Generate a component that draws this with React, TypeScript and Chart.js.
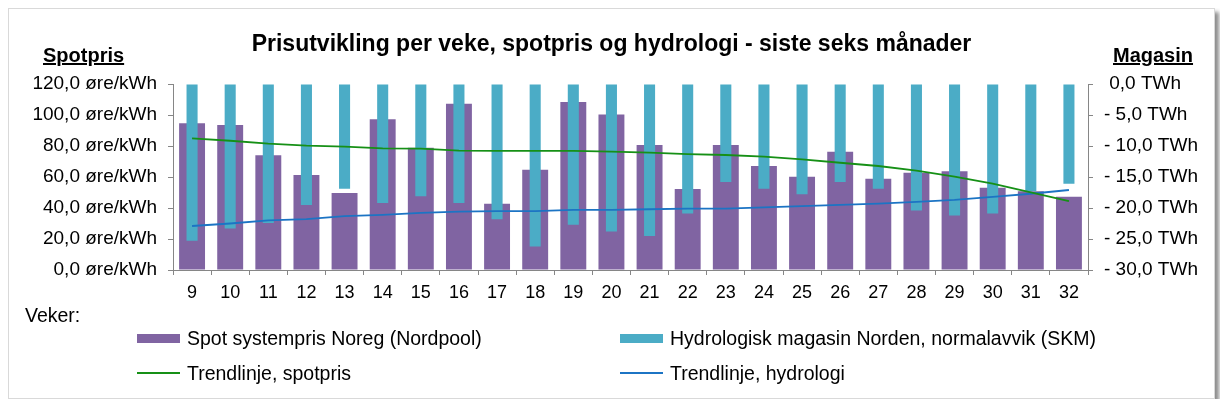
import React, { useEffect, useRef } from 'react';
import Chart from 'chart.js/auto';

// weeks on the x axis
const weeks = ['9', '10', '11', '12', '13', '14', '15', '16', '17', '18', '19', '20',
  '21', '22', '23', '24', '25', '26', '27', '28', '29', '30', '31', '32'];

// øre/kWh, left axis
const spotPrice = [94.6, 93.5, 74.0, 61.3, 49.7, 97.2, 78.9, 107.3, 42.8, 64.7, 108.4, 100.4,
  80.6, 52.3, 80.6, 67.1, 60.2, 76.3, 58.9, 62.8, 63.7, 53.1, 50.8, 47.3];

// TWh deviation from normal, right axis
const reservoir = [-25.3, -23.3, -22.4, -19.5, -16.9, -19.2, -18.1, -19.2, -21.8, -26.2, -22.7, -23.8,
  -24.5, -20.9, -15.8, -16.9, -17.8, -15.8, -16.9, -20.4, -21.2, -20.9, -17.3, -16.1];

const spotTrend = [84.9, 83.4, 81.5, 80.2, 79.6, 78.5, 78.3, 77.0, 76.8, 76.8, 76.8, 76.4,
  75.7, 74.8, 74.2, 73.1, 71.4, 69.2, 67.1, 64.1, 60.2, 55.7, 50.1, 44.5];

const hydroTrend = [-22.9, -22.5, -22.0, -21.8, -21.3, -21.1, -20.8, -20.6, -20.5, -20.5, -20.3, -20.3,
  -20.2, -20.1, -20.1, -19.9, -19.7, -19.5, -19.3, -19.0, -18.7, -18.2, -17.7, -17.1];

const PURPLE = '#8064A2';
const TEAL = '#4BACC6';
const GREEN = '#169016';
const BLUE = '#1C74C4';
const AXIS = '#868686';
const FONT = '"Liberation Sans", Arial, sans-serif';

const W = 1205;
const H = 389;

const fmt = (v: number) => v.toFixed(1).replace('.', ',');

const App: React.FC = () => {
  const canvasRef = useRef<HTMLCanvasElement>(null);
  const chartRef = useRef<Chart | null>(null);

  useEffect(() => {
    const ctx = canvasRef.current?.getContext('2d');
    if (!ctx) return;
    if (chartRef.current) chartRef.current.destroy();

    chartRef.current = new Chart(ctx, {
      type: 'bar',
      data: {
        labels: weeks,
        datasets: [
          {
            type: 'line',
            label: 'Trendlinje, spotpris',
            data: spotTrend,
            yAxisID: 'y',
            borderColor: GREEN,
            borderWidth: 1.8,
            pointRadius: 0,
            order: 0,
          },
          {
            type: 'line',
            label: 'Trendlinje, hydrologi',
            data: hydroTrend,
            yAxisID: 'y1',
            borderColor: BLUE,
            borderWidth: 1.8,
            pointRadius: 0,
            order: 1,
          },
          {
            label: 'Hydrologisk magasin Norden, normalavvik (SKM)',
            data: reservoir,
            yAxisID: 'y1',
            backgroundColor: TEAL,
            grouped: false,
            categoryPercentage: 1,
            barPercentage: 0.29,
            order: 2,
          },
          {
            label: 'Spot systempris Noreg (Nordpool)',
            data: spotPrice,
            yAxisID: 'y',
            backgroundColor: PURPLE,
            grouped: false,
            categoryPercentage: 1,
            barPercentage: 0.68,
            order: 3,
          },
        ],
      },
      options: {
        responsive: false,
        animation: false,
        layout: { padding: { top: 75, bottom: 88, left: 0, right: 0 } },
        plugins: {
          legend: { display: false },
          title: { display: false },
          tooltip: { enabled: false },
        },
        scales: {
          x: {
            offset: true,
            grid: { offset: true, drawOnChartArea: false, tickLength: 5, color: AXIS },
            border: { color: AXIS },
            ticks: { color: '#000', font: { family: FONT, size: 18 }, padding: 7, maxRotation: 0 },
            afterFit: (s: any) => { s.height = 40; },
          },
          y: {
            position: 'left',
            min: 0,
            max: 120,
            grid: { drawOnChartArea: false, tickLength: 5, color: AXIS },
            border: { color: AXIS },
            ticks: {
              stepSize: 20,
              color: '#000',
              padding: 11,
              font: { family: FONT, size: 19 },
              callback: (v: any) => fmt(Number(v)) + ' øre/kWh',
            },
            afterFit: (s: any) => { s.width = 164; },
          },
          y1: {
            position: 'right',
            min: -30,
            max: 0,
            grid: { drawOnChartArea: false, tickLength: 5, color: AXIS },
            border: { color: AXIS },
            ticks: {
              stepSize: 5,
              color: '#000',
              padding: 11,
              font: { family: FONT, size: 19 },
              callback: (v: any) => {
                const n = Number(v);
                return n === 0 ? ' 0,0 TWh' : '- ' + fmt(Math.abs(n)) + ' TWh';
              },
            },
            afterFit: (s: any) => { s.width = 126; },
          },
        },
      },
    });

    return () => {
      if (chartRef.current) {
        chartRef.current.destroy();
        chartRef.current = null;
      }
    };
  }, []);

  const text: React.CSSProperties = {
    position: 'absolute',
    fontFamily: FONT,
    fontSize: 19.5,
    lineHeight: '22px',
    color: '#000',
    whiteSpace: 'nowrap',
  };

  const swatch = (left: number, top: number, color: string, h: number): React.CSSProperties => ({
    position: 'absolute',
    left,
    top,
    width: 43,
    height: h,
    background: color,
  });

  return (
    <div
      style={{
        position: 'relative',
        width: W,
        height: H,
        border: '1px solid #d9d9d9',
        boxShadow: '4px 4px 4px rgba(0,0,0,0.45)',
        background: '#fff',
      }}
    >
      <canvas ref={canvasRef} width={W} height={H} style={{ position: 'absolute', left: 0, top: 0 }} />
      <div
        style={{
          ...text,
          left: 0,
          width: W,
          top: 21,
          textAlign: 'center',
          fontSize: 23,
          lineHeight: '26px',
          fontWeight: 'bold',
        }}
      >
        Prisutvikling per veke, spotpris og hydrologi - siste seks månader
      </div>
      <div style={{ ...text, left: 34, top: 35, fontSize: 20, fontWeight: 'bold', textDecoration: 'underline' }}>Spotpris</div>
      <div style={{ ...text, left: 1104, top: 35, fontSize: 20, fontWeight: 'bold', textDecoration: 'underline' }}>Magasin</div>
      <div style={{ ...text, left: 16, top: 295 }}>Veker:</div>

      <div style={swatch(128, 325, PURPLE, 9)} />
      <div style={{ ...text, left: 178, top: 318 }}>Spot systempris Noreg (Nordpool)</div>
      <div style={swatch(611, 325, TEAL, 9)} />
      <div style={{ ...text, left: 661, top: 318 }}>Hydrologisk magasin Norden, normalavvik (SKM)</div>

      <div style={swatch(128, 363, GREEN, 2)} />
      <div style={{ ...text, left: 178, top: 353 }}>Trendlinje, spotpris</div>
      <div style={swatch(611, 363, BLUE, 2)} />
      <div style={{ ...text, left: 661, top: 353 }}>Trendlinje, hydrologi</div>
    </div>
  );
};

export default App;
